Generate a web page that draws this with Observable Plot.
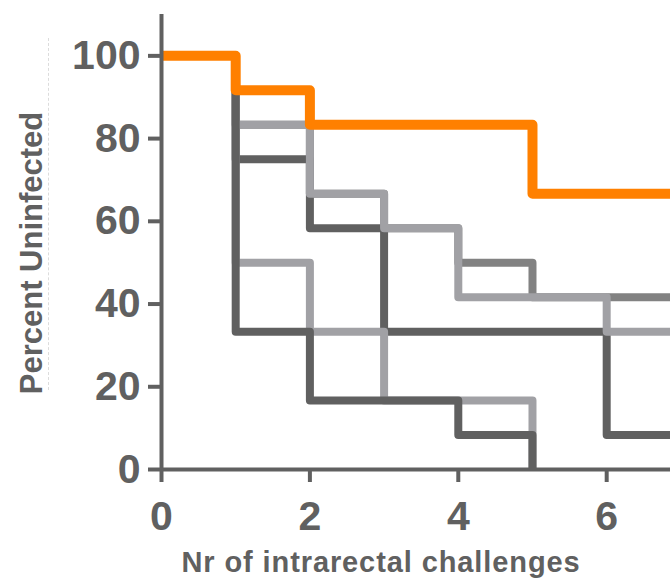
<!DOCTYPE html>
<html>
<head>
<meta charset="utf-8">
<script src="https://cdn.jsdelivr.net/npm/d3@7"></script>
<script src="https://cdn.jsdelivr.net/npm/@observablehq/plot@0.6"></script>
<style>
  html, body { margin: 0; padding: 0; background: #fff; }
  #wrap { position: relative; width: 670px; height: 578px; }
  #chart svg { display: block; }
  #guide { position: absolute; left: 48px; top: 38px; height: 352px; border-left: 1px dashed #dcdcdc; }
</style>
</head>
<body>
<div id="wrap"><div id="chart"></div><div id="guide"></div></div>
<script>
// Number of challenges (x) and percent uninfected (y) per group
const challenges = [0, 1, 2, 3, 4, 5, 6, 7];
const groupOrange = [100, 91.67, 83.33, 83.33, 83.33, 66.67, 66.67, 66.67];
const groupLightA = [100, 83.33, 66.67, 58.33, 41.67, 41.67, 33.33, 33.33];
const groupMedium = [100, 83.33, 66.67, 58.33, 50, 41.67, 41.67, 41.67];
const groupDarkB  = [100, 75, 58.33, 33.33, 33.33, 33.33, 8.33, 8.33];
const groupLightD = [100, 50, 33.33, 16.67, 16.67, 0];
const groupDarkE  = [100, 33.33, 16.67, 16.67, 8.33, 0];

const xTicks = [0, 2, 4, 6];
const yTicks = [0, 20, 40, 60, 80, 100];
const xTitle = "Nr of intrarectal challenges";
const yTitle = "Percent Uninfected";

const axisGray = "#606060";
// drawing order: bottom to top
const series = [
  {name: "medium", values: groupMedium, color: "#828282", width: 8},
  {name: "darkB",  values: groupDarkB,  color: "#606060", width: 8},
  {name: "lightA", values: groupLightA, color: "#a1a1a5", width: 8},
  {name: "lightD", values: groupLightD, color: "#a1a1a5", width: 8},
  {name: "darkE",  values: groupDarkE,  color: "#606060", width: 8},
  {name: "orange", values: groupOrange, color: "#ff8000", width: 10}
];

const rows = series.flatMap(s => s.values.map((v, i) => ({group: s.name, x: challenges[i], y: v})));

const font = "'Liberation Sans', Arial, Helvetica, sans-serif";

const plot = Plot.plot({
  width: 670,
  height: 578,
  marginLeft: 161,
  marginRight: 0,
  marginTop: 14,
  marginBottom: 109,
  style: {fontFamily: font, background: "#fff"},
  x: {domain: [0, 6.86]},
  y: {domain: [0, 110]},
  marks: [
    ...series.map(s => Plot.line(rows.filter(r => r.group === s.name), {
      x: "x", y: "y", curve: "step-after",
      stroke: s.color, strokeWidth: s.width,
      strokeLinejoin: "round", strokeLinecap: "butt", clip: true
    })),
    Plot.axisX({ticks: xTicks, tickFormat: d => String(d), tickSize: 13, tickPadding: 18, fontSize: 41, fontWeight: "bold",
      color: axisGray, strokeWidth: 4, label: null}),
    Plot.axisY({ticks: yTicks, tickFormat: d => String(d), tickSize: 13, tickPadding: 8, fontSize: 41, fontWeight: "bold",
      color: axisGray, strokeWidth: 4, label: null}),
    Plot.ruleX([0], {stroke: axisGray, strokeWidth: 4}),
    Plot.ruleY([0], {stroke: axisGray, strokeWidth: 4}),
    Plot.text([xTitle], {frameAnchor: "bottom", textAnchor: "middle", lineAnchor: "bottom",
      dx: -35, dy: 102, fontSize: 29, fontWeight: "bold", fill: axisGray}),
    Plot.text([yTitle], {frameAnchor: "left", textAnchor: "middle", lineAnchor: "bottom",
      rotate: -90, dx: -120, dy: 11, fontSize: 31, fontWeight: "bold", fill: axisGray})
  ]
});

document.getElementById("chart").append(plot);
d3.select(plot).selectAll("text").filter(function () { return this.textContent === xTitle; })
  .attr("letter-spacing", "0.9px");
</script>
</body>
</html>
